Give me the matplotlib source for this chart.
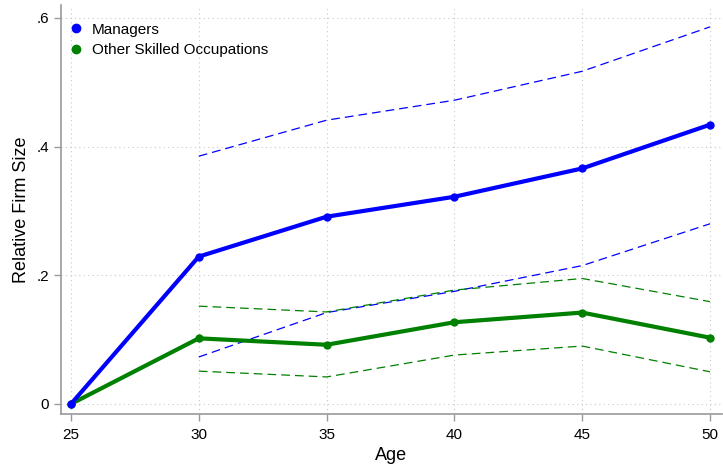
import matplotlib
matplotlib.use("Agg")
import matplotlib.pyplot as plt

# ── Data ─────────────────────────────────────────────────────────
age = [25, 30, 35, 40, 45, 50]
ci_age = [30, 35, 40, 45, 50]

managers     = [0.0, 0.229, 0.291, 0.322, 0.366, 0.434]
managers_hi  = [0.385, 0.441, 0.472, 0.517, 0.586]
managers_lo  = [0.073, 0.142, 0.175, 0.215, 0.280]

other        = [0.0, 0.102, 0.092, 0.127, 0.142, 0.103]
other_hi     = [0.152, 0.143, 0.177, 0.195, 0.159]
other_lo     = [0.051, 0.042, 0.076, 0.090, 0.050]

BLUE  = "#0000ff"
GREEN = "#008000"
AXC   = "#9a9a9a"

plt.rcParams["font.family"] = ["Liberation Sans", "DejaVu Sans"]

fig = plt.figure(figsize=(7.23, 4.66), dpi=100)
ax = fig.add_axes([61 / 723, 52 / 466, 661 / 723, 409 / 466])

ax.plot(ci_age, managers_hi, color=BLUE, lw=0.9, ls=(0, (7, 4)))
ax.plot(ci_age, managers_lo, color=BLUE, lw=0.9, ls=(0, (7, 4)))
ax.plot(ci_age, other_hi, color=GREEN, lw=0.9, ls=(0, (7, 4)))
ax.plot(ci_age, other_lo, color=GREEN, lw=0.9, ls=(0, (7, 4)))

ax.plot(age, other, color=GREEN, lw=3, marker="o", ms=5)
ax.plot(age, managers, color=BLUE, lw=3, marker="o", ms=5)

ax.set_xlim(24.61, 50.47)
ax.set_ylim(-0.0156, 0.620)
ax.set_xticks(age)
ax.set_yticks([0, 0.2, 0.4, 0.6])
ax.set_yticklabels(["0", ".2", ".4", ".6"])
ax.grid(True, ls=(0, (1, 3)), color="#c8c8c8", lw=0.8)

for s in ["top", "right"]:
    ax.spines[s].set_visible(False)
for s in ["left", "bottom"]:
    ax.spines[s].set_color(AXC)
    ax.spines[s].set_linewidth(1.2)
ax.tick_params(colors=AXC, labelcolor="black", labelsize=11, length=5, width=1)
ax.tick_params(axis="x", pad=5)

ax.set_xlabel("Age", fontsize=13, labelpad=4)
ax.set_ylabel("Relative Firm Size", fontsize=13, labelpad=5)

h1, = ax.plot([], [], ls="none", marker="o", color=BLUE, ms=6)
h2, = ax.plot([], [], ls="none", marker="o", color=GREEN, ms=6)
ax.legend([h1, h2], ["Managers", "Other Skilled Occupations"], loc="upper left",
          frameon=False, fontsize=11, handletextpad=0.4, borderaxespad=0.0,
          handlelength=1.2, labelspacing=0.45, bbox_to_anchor=(0.0, 0.972))

fig.savefig("out.png", dpi=100, facecolor="white")
